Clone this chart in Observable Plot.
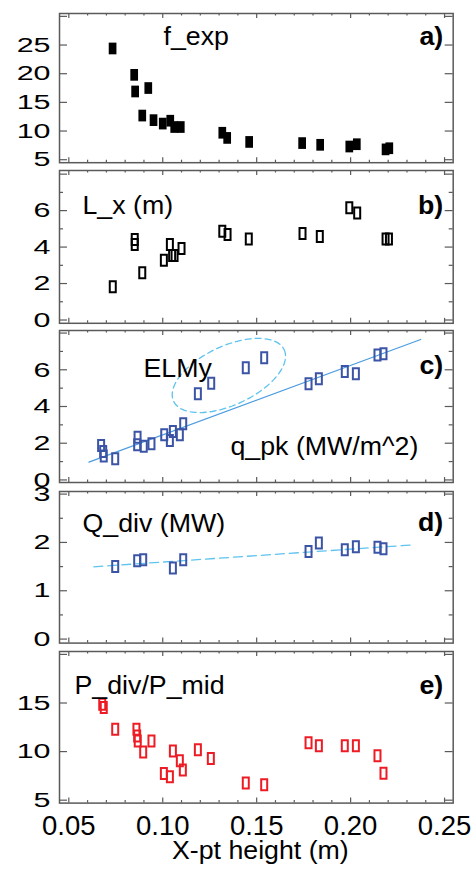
<!DOCTYPE html>
<html><head><meta charset="utf-8">
<script src="https://cdn.jsdelivr.net/npm/d3@7"></script>
<script src="https://cdn.jsdelivr.net/npm/@observablehq/plot@0.6"></script>
<style>
body{margin:0;background:#fff;}
#fig{position:relative;width:474px;height:870px;font-family:"Liberation Sans",Arial,sans-serif;}
.panel{position:absolute;left:0;}
</style></head><body><div id="fig"></div>
<script>
// ---- data ----
const xTickMajor = [0.05, 0.10, 0.15, 0.20, 0.25];
const xTickMinor = [0.06,0.07,0.08,0.09,0.11,0.12,0.13,0.14,0.16,0.17,0.18,0.19,0.21,0.22,0.23,0.24];
const xTitle = "X-pt height (m)";

// a) f_exp
const fexpX = [0.0733,0.0848,0.0853,0.0891,0.0923,0.0951,0.1000,0.1040,0.1061,0.1096,0.1317,0.1343,0.1460,0.1742,0.1838,0.1993,0.2033,0.2186,0.2206];
const fexpY = [24.4,19.8,16.9,12.7,17.5,11.9,11.3,11.8,10.7,10.7,9.7,8.8,8.1,7.9,7.6,7.3,7.7,6.8,7.0];
// b) L_x (m)
const lxX = [0.0734,0.0851,0.0851,0.0891,0.1006,0.1038,0.1050,0.1063,0.1100,0.1317,0.1345,0.1458,0.1744,0.1836,0.1993,0.2035,0.2186,0.2204];
const lxY = [1.82,4.41,4.14,2.59,3.28,4.14,3.54,3.54,3.92,4.87,4.69,4.45,4.74,4.58,6.16,5.87,4.45,4.45];
// c) q_pk (MW/m^2)
const qpkX = [0.0672,0.0683,0.0686,0.0747,0.0866,0.0864,0.0899,0.0940,0.1008,0.1038,0.1054,0.1091,0.1109,0.1187,0.1258,0.1442,0.1540,0.1776,0.1831,0.1969,0.2028,0.2143,0.2175];
const qpkY = [1.88,1.55,1.30,1.15,2.33,1.91,1.84,1.97,2.46,2.15,2.64,2.46,3.06,4.69,5.27,6.11,6.65,5.24,5.51,5.91,5.78,6.81,6.87];
const qpkFitX = [0.0607, 0.2373];
const qpkFitY = [0.97, 7.65];
// ELMy ellipse: centre and semi-axis vectors (data units)
const elmyCentre = [0.1352, 5.69];
const elmyAxisA = [0.02944, 1.404];
const elmyAxisB = [0.00664, -1.455];
// d) Q_div (MW)
const qdivX = [0.0747,0.0864,0.0896,0.1054,0.1109,0.1776,0.1831,0.1969,0.2028,0.2143,0.2175];
const qdivY = [1.50,1.62,1.64,1.47,1.64,1.81,1.99,1.85,1.91,1.90,1.87];
const qdivFitX = [0.0633, 0.2337];
const qdivFitY = [1.496, 1.951];
// e) P_div/P_mid
const prX = [0.0678,0.0686,0.0747,0.0860,0.0864,0.0867,0.0896,0.0940,0.1006,0.1038,0.1054,0.1091,0.1107,0.1187,0.1256,0.1442,0.1540,0.1776,0.1831,0.1969,0.2028,0.2143,0.2175];
const prY = [14.87,14.55,12.3,12.3,11.6,11.1,9.97,11.1,7.74,7.40,10.07,9.05,8.1,10.2,9.3,6.76,6.58,10.9,10.6,10.6,10.6,9.56,7.78];

// ---- styling / layout ----
const W = 474, fl = 59, fr = 452.7;
const xDomain = [0.04505, 0.2546];
const frameColor = "#5a5a5a";
const blue = "#3b54a5", red = "#ed1c24", cyan = "#5ec3ee";
const rectSym = (w, h) => ({draw(ctx) { ctx.rect(-w / 2, -h / 2, w, h); }});
const pts = (xs, ys) => xs.map((x, i) => ({x, y: ys[i]}));

const ellipse = d3.range(0, 73).map(i => {
  const t = i / 72 * 2 * Math.PI;
  return {x: elmyCentre[0] + Math.cos(t) * elmyAxisA[0] + Math.sin(t) * elmyAxisB[0],
          y: elmyCentre[1] + Math.cos(t) * elmyAxisA[1] + Math.sin(t) * elmyAxisB[1]};
});

const openDot = (data, color) => Plot.dot(data, {x: "x", y: "y", symbol: rectSym(6, 11), r: 6, fill: "none", stroke: color, strokeWidth: 2});

const panels = [
  {top: 12.5, bottom: 161.7, domain: [4.48, 30.5], major: [5,10,15,20,25,30], minor: [], labels: [5,10,15,20,25],
   name: "f_exp", nameDx: 104, nameDy: 13.5, tag: "a)", tagDy: 14,
   marks: [Plot.dot(pts(fexpX, fexpY), {x: "x", y: "y", symbol: rectSym(7.7, 11.7), r: 6, fill: "#000", stroke: "none"})]},
  {top: 169.5, bottom: 322.3, domain: [-0.18, 8.2], major: [0,2,4,6,8], minor: [1,3,5,7], labels: [0,2,4,6],
   name: "L_x (m)", nameDx: 23, nameDy: 25.5, tag: "b)", tagDy: 25.5,
   marks: [openDot(pts(lxX, lxY), "#000")]},
  {top: 330, bottom: 482, domain: [-0.14, 8.14], major: [0,2,4,6,8], minor: [1,3,5,7], labels: [0,2,4,6],
   name: "ELMy", nameDx: 84, nameDy: 29, tag: "c)", tagDy: 26,
   marks: [
     Plot.line(ellipse, {x: "x", y: "y", stroke: cyan, strokeWidth: 1.3, strokeDasharray: "6,4"}),
     Plot.line(pts(qpkFitX, qpkFitY), {x: "x", y: "y", stroke: "#4d9de0", strokeWidth: 1.3}),
     openDot(pts(qpkX, qpkY), blue),
     Plot.text(["q_pk (MW/m^2)"], {frameAnchor: "bottom-left", dx: 171, dy: -28, textAnchor: "start", fontSize: 25, fill: "#000"})
   ]},
  {top: 490.7, bottom: 642.3, domain: [-0.083, 3.054], major: [0,1,2,3], minor: [0.5,1.5,2.5], labels: [0,1,2,3],
   name: "Q_div (MW)", nameDx: 23, nameDy: 22.3, tag: "d)", tagDy: 22,
   marks: [
     Plot.line(pts(qdivFitX, qdivFitY), {x: "x", y: "y", stroke: cyan, strokeWidth: 1.3, strokeDasharray: "9,5"}),
     openDot(pts(qdivX, qdivY), blue)
   ]},
  {top: 650.7, bottom: 802.3, domain: [4.7, 20.3], major: [5,10,15,20], minor: [], labels: [5,10,15],
   name: "P_div/P_mid", nameDx: 15, nameDy: 24.3, tag: "e)", tagDy: 24.3, last: true,
   marks: [openDot(pts(prX, prY), red)]}
];

const fig = document.getElementById("fig");
const svgs = [];
panels.forEach(p => {
  const mt = 6, H = p.bottom - p.top;
  const mb = p.last ? 870 - p.bottom : 6;
  const FW = fr - fl;
  const marks = [
    ...p.marks,
    Plot.frame({stroke: frameColor, strokeWidth: 1.5}),
    Plot.tickX(xTickMajor, {x: d => d, insetTop: H - 5, stroke: frameColor, strokeWidth: 1.2}),
    Plot.tickX(xTickMajor, {x: d => d, insetBottom: H - 5, stroke: frameColor, strokeWidth: 1.2}),
    Plot.tickX(xTickMinor, {x: d => d, insetTop: H - 2.5, stroke: frameColor, strokeWidth: 1.2}),
    Plot.tickX(xTickMinor, {x: d => d, insetBottom: H - 2.5, stroke: frameColor, strokeWidth: 1.2}),
    Plot.tickY(p.major, {y: d => d, insetRight: FW - 8, stroke: frameColor, strokeWidth: 1.2}),
    Plot.tickY(p.major, {y: d => d, insetLeft: FW - 8, stroke: frameColor, strokeWidth: 1.2}),
    Plot.tickY(p.minor, {y: d => d, insetRight: FW - 4, stroke: frameColor, strokeWidth: 1.2}),
    Plot.tickY(p.minor, {y: d => d, insetLeft: FW - 4, stroke: frameColor, strokeWidth: 1.2}),
    Plot.axisY(p.labels, {anchor: "left", tickSize: 0, tickPadding: 9, fontSize: 21, tickFormat: d => String(d), label: null, fill: "#000"}),
    Plot.text([p.name], {frameAnchor: "top-left", dx: p.nameDx, dy: p.nameDy, textAnchor: "start", fontSize: 25, fill: "#000"}),
    Plot.text([p.tag], {frameAnchor: "top-right", dx: -10, dy: p.tagDy, textAnchor: "end", fontSize: 25, fontWeight: "bold", fill: "#000"})
  ];
  if (p.last) {
    marks.push(Plot.axisX(xTickMajor, {anchor: "bottom", tickSize: 0, tickPadding: 12.5, fontSize: 27.5, tickFormat: d3.format(".2f"), label: null, fill: "#000"}));
    marks.push(Plot.text([xTitle], {frameAnchor: "bottom", dx: 4, dy: 55.5, fontSize: 25, fill: "#000"}));
  }
  const chart = Plot.plot({
    width: W, height: mt + H + mb,
    marginLeft: fl, marginRight: W - fr, marginTop: mt, marginBottom: mb,
    x: p.last ? {domain: xDomain} : {domain: xDomain, axis: null},
    y: {domain: p.domain},
    style: {background: "transparent", overflow: "visible", fontFamily: "'Liberation Sans', Arial, sans-serif", color: "#000"},
    marks
  });
  const wrap = document.createElement("div");
  wrap.className = "panel";
  wrap.style.top = (p.top - mt) + "px";
  wrap.appendChild(chart);
  fig.appendChild(wrap);
  svgs.push(chart);
});

function stretch(svg, sel, sx) {
  svg.querySelectorAll(sel).forEach(t => {
    const g = document.createElementNS("http://www.w3.org/2000/svg", "g");
    t.parentNode.insertBefore(g, t);
    g.appendChild(t);
    const bb = g.getBBox();
    const anchor = getComputedStyle(t).textAnchor;
    const ox = anchor === "end" ? bb.x + bb.width : anchor === "middle" ? bb.x + bb.width / 2 : bb.x;
    g.setAttribute("transform", `translate(${ox},0) scale(${sx},1) translate(${-ox},0)`);
  });
}
svgs.forEach(svg => {
  stretch(svg, 'g[aria-label="y-axis tick label"] text', 1.45);
  stretch(svg, 'g[aria-label="text"] text', 1.07);
});
</script></body></html>
